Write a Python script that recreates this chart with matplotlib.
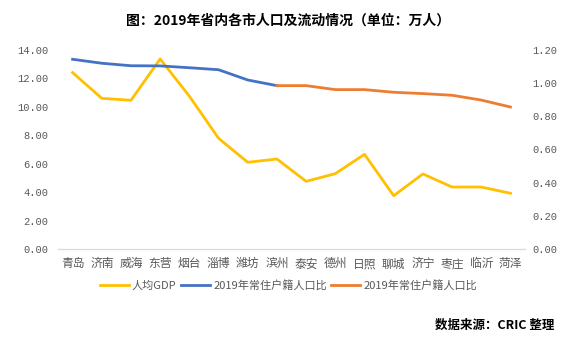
import numpy as np
import matplotlib.pyplot as plt

plt.rcParams['font.family'] = ['Noto Sans CJK SC', 'DejaVu Sans']

# data
cities = ['青岛', '济南', '威海', '东营', '烟台', '淄博', '潍坊', '滨州',
          '泰安', '德州', '日照', '聊城', '济宁', '枣庄', '临沂', '菏泽']
gdp = [12.41, 10.60, 10.46, 13.37, 10.75, 7.79, 6.10, 6.33,
       4.76, 5.30, 6.66, 3.75, 5.28, 4.36, 4.36, 3.92]
ratio_blue = [1.144, 1.120, 1.105, 1.104, 1.093, 1.081, 1.019, 0.985,
              np.nan, np.nan, np.nan, np.nan, np.nan, np.nan, np.nan, np.nan]
ratio_orange = [np.nan, np.nan, np.nan, np.nan, np.nan, np.nan, np.nan, 0.985,
                0.985, 0.961, 0.961, 0.945, 0.937, 0.927, 0.898, 0.856]

fig = plt.figure(figsize=(5.77, 3.40), dpi=100)
ax = fig.add_axes([0.1005, 0.2676, 0.8095, 0.5854])
ax2 = ax.twinx()

x = np.arange(len(cities))
l1, = ax.plot(x, gdp, color='#FFC000', lw=2.0, label='人均GDP')
l2, = ax2.plot(x, ratio_blue, color='#4472C4', lw=2.0, label='2019年常住户籍人口比')
l3, = ax2.plot(x, ratio_orange, color='#ED7D31', lw=2.0, label='2019年常住户籍人口比')

grey = '#595959'
ax.set_xlim(-0.5, len(cities) - 0.5)
ax.set_ylim(0, 14)
ax.set_yticks(np.arange(0, 14.1, 2))
ax.set_yticklabels(['%.2f' % v for v in np.arange(0, 14.1, 2)],
                   family='Liberation Mono')
ax2.set_ylim(0, 1.2)
ax2.set_yticks(np.arange(0, 1.21, 0.2))
ax2.set_yticklabels(['%.2f' % v for v in np.arange(0, 1.21, 0.2)],
                    family='Liberation Mono')
ax.set_xticks(x)
ax.set_xticklabels(cities)

for a in (ax, ax2):
    for s in ('top', 'left', 'right'):
        a.spines[s].set_visible(False)
    a.spines['bottom'].set_color('#d9d9d9')
    a.tick_params(length=0, labelsize=7.5, labelcolor=grey)
ax.tick_params(axis='x', labelsize=8.5, pad=6)
ax.tick_params(axis='y', pad=7)
ax2.tick_params(axis='y', pad=5)

fig.text(0.5, 0.94, '图：2019年省内各市人口及流动情况（单位：万人）',
         ha='center', va='center', fontsize=10, fontweight='bold')
fig.legend(handles=[l1, l2, l3], loc='center', bbox_to_anchor=(0.5, 0.16),
           ncol=3, frameon=False, fontsize=8, labelcolor=grey,
           handlelength=2.6, handletextpad=0.3, columnspacing=0.4)
fig.text(0.96, 0.042, '数据来源：CRIC 整理', ha='right', va='center',
         fontsize=9, fontweight='bold')

fig.savefig('out.png', dpi=100)
